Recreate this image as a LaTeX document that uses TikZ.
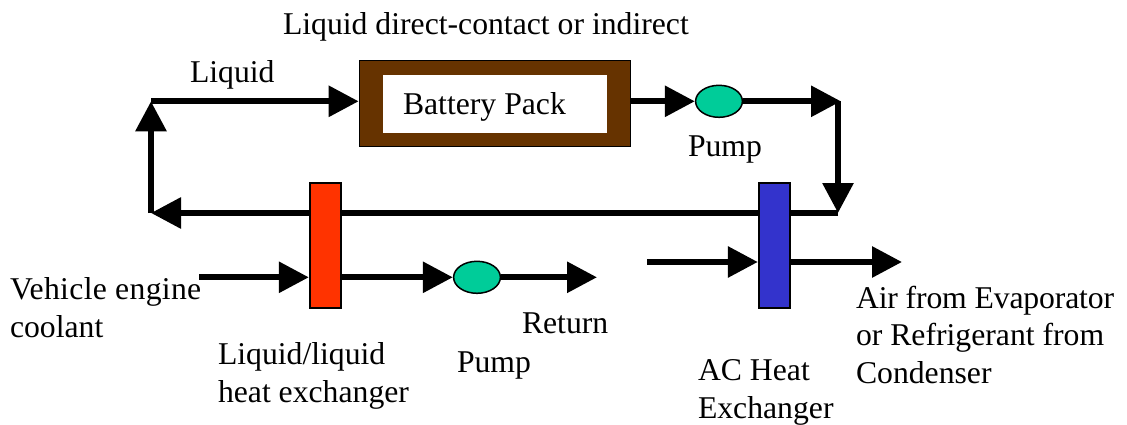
\documentclass[tikz,border=0pt]{standalone}
\usepackage{fontspec}
\setmainfont{Liberation Serif}
\usetikzlibrary{arrows.meta,shapes.geometric}
\tikzset{
  x=1pt,y=-1pt,
  flow/.style={line width=6pt,-{Triangle[length=30pt,width=30pt]}},
  lbl/.style={inner sep=0pt,outer sep=0pt,anchor=base west,align=left,
    font=\fontsize{31.7}{37.5}\selectfont},
  exch/.style={draw=black,line width=1.7pt,minimum width=31.6pt,minimum height=125.6pt,inner sep=0pt,outer sep=0.85pt},
  pumpnode/.style={ellipse,draw=black,fill=pumpgreen,line width=1.5pt,minimum width=46.8pt,minimum height=32pt,inner sep=0pt,outer sep=0.75pt},
}
\definecolor{packbrown}{HTML}{663300}
\definecolor{hotred}{HTML}{FF3300}
\definecolor{acblue}{HTML}{3333CC}
\definecolor{pumpgreen}{HTML}{00CC99}
\begin{document}
\begin{tikzpicture}
\useasboundingbox (0,0) rectangle (1127,425);
% loop corners and free ends
\coordinate (tl) at (151,101.3);
\coordinate (bl) at (151,213);
\coordinate (br) at (838,213);
\coordinate (tr) at (838,101.3);
\coordinate (trtip) at (841,101.3);
\coordinate (coolin) at (199,277.3);
\coordinate (coolout) at (597,277.3);
\coordinate (airin) at (647,262);
\coordinate (airout) at (902,262);
% loop line runs behind the exchangers
\draw[flow] (br) -- (bl);
% nodes
\node[draw=black,line width=1.7pt,fill=packbrown,minimum width=271pt,minimum height=86pt,inner sep=0pt,outer sep=0.85pt] (pack) at (495,103.5) {};
\node[fill=white,minimum width=224pt,minimum height=58pt,inner sep=0pt] (packin) at (495,104) {};
\node[exch,fill=hotred] (hx1) at (325.5,245.5) {};
\node[exch,fill=acblue] (hx2) at (774.5,245.5) {};
\node[pumpnode] (pump1) at (719,101.3) {};
\node[pumpnode] (pump2) at (477,277.3) {};
% connectors
\draw[flow] (bl) -- (tl);
\draw[flow] (tl) -- (tl -| pack.west);
\draw[flow] (pack.east |- pump1) -- (pump1.west);
\draw[flow] (pump1.east) -- (trtip);
\draw[flow] (tr) -- (br);
\draw[flow] (coolin) -- (coolin -| hx1.west);
\draw[flow] (coolout -| hx1.east) -- (pump2.west);
\draw[flow] (pump2.east) -- (coolout);
\draw[flow] (airin) -- (airin -| hx2.west);
\draw[flow] (airin -| hx2.east) -- (airout);
% labels
\node[lbl] (t1) at (283,35) {Liquid direct-contact or indirect};
\node[lbl] (t2) at (190,83) {Liquid};
\node[lbl] (t3) at (403,115) {Battery Pack};
\node[lbl] (t4) at (688,157) {Pump};
\node[lbl] (t5) at (10,337) {{\addfontfeature{LetterSpace=1}Vehicle engine}\\coolant};
\node[lbl] (t6) at (522,333) {Return};
\node[lbl] (t7) at (218,402) {Liquid/liquid\\heat exchanger};
\node[lbl] (t8) at (457,372) {Pump};
\node[lbl] (t9) at (698,418) {AC Heat\\Exchanger};
\node[lbl] (t10) at (856,383) {{\addfontfeature{LetterSpace=-0.5}Air from Evaporator}\\or Refrigerant from\\Condenser};
\end{tikzpicture}
\end{document}
